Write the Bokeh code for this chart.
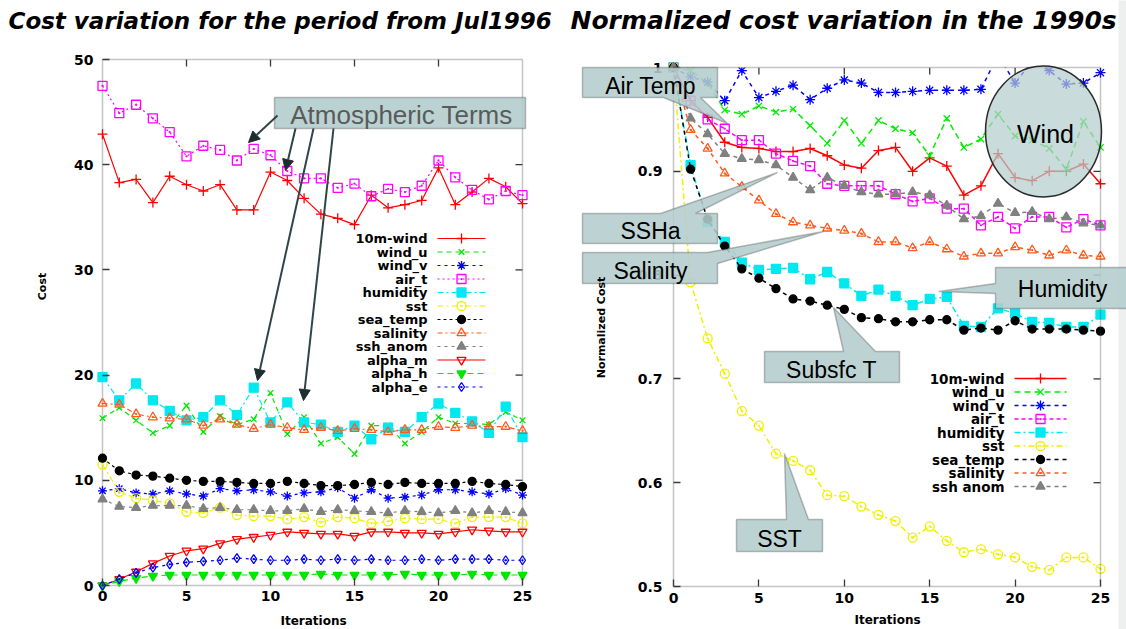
import math
from bokeh.plotting import figure
from bokeh.layouts import row
from bokeh.models import (Label, LinearAxis, FixedTicker, PolyAnnotation, Arrow,
                          NormalHead, Range1d, BoxAnnotation)
from bokeh.embed import file_html
from bokeh.resources import INLINE

# ---------------- data ----------------
iterations = [0, 1, 2, 3, 4, 5, 6, 7, 8, 9, 10, 11, 12, 13, 14, 15, 16, 17, 18, 19, 20, 21, 22, 23, 24, 25]

# absolute cost terms (left panel)
cost_10m_wind = [42.9, 38.3, 38.6, 36.4, 38.9, 38.1, 37.5, 38.1, 35.7, 35.7, 39.3, 38.5, 36.8, 35.3, 34.9, 34.3, 37.1, 35.9, 36.2, 36.6, 39.7, 36.2, 37.4, 38.7, 37.9, 36.3]
cost_wind_u = [15.9, 16.9, 15.7, 14.5, 15.2, 17.1, 14.6, 16.1, 15.3, 15.8, 18.3, 14.4, 16.0, 13.5, 14.1, 12.5, 15.2, 15.2, 13.5, 14.6, 16.0, 15.4, 15.4, 15.3, 16.5, 15.7]
cost_wind_v = [9.0, 9.2, 8.8, 8.7, 9.0, 8.7, 8.5, 9.2, 9.0, 9.1, 8.9, 8.5, 8.8, 8.9, 9.3, 8.3, 9.1, 8.3, 8.4, 8.6, 9.1, 9.1, 8.9, 8.7, 9.2, 8.6]
cost_air_t = [47.5, 44.9, 45.7, 44.4, 43.1, 40.8, 41.8, 41.4, 40.4, 41.5, 40.9, 39.4, 38.7, 38.7, 37.8, 38.2, 37.0, 37.7, 37.4, 38.0, 40.4, 38.8, 37.6, 36.7, 37.5, 37.1]
cost_humidity = [19.8, 17.6, 19.2, 17.6, 16.6, 15.7, 16.0, 17.6, 16.2, 18.8, 15.5, 17.4, 15.5, 15.3, 14.6, 15.2, 13.9, 15.0, 14.6, 16.0, 17.3, 16.4, 15.6, 14.5, 17.0, 14.1]
cost_sst = [11.5, 8.9, 8.3, 8.1, 7.8, 7.0, 6.9, 7.4, 6.7, 6.6, 6.6, 6.3, 6.5, 6.0, 6.5, 6.4, 5.9, 6.1, 6.4, 6.3, 6.3, 5.9, 6.5, 6.5, 6.5, 5.9]
cost_sea_temp = [12.1, 10.9, 10.5, 10.4, 10.2, 10.0, 9.9, 9.9, 9.8, 9.7, 9.7, 9.9, 9.7, 9.5, 9.5, 9.6, 9.8, 9.6, 9.8, 9.7, 9.7, 9.7, 9.9, 9.7, 9.6, 9.4]
cost_salinity = [17.3, 17.2, 16.3, 16.0, 15.9, 15.8, 15.2, 15.8, 15.3, 14.9, 15.3, 15.0, 14.8, 15.0, 14.7, 14.9, 14.8, 14.6, 14.8, 14.8, 15.1, 15.0, 15.2, 15.1, 15.1, 14.7]
cost_ssh_anom = [8.2, 7.5, 7.4, 7.6, 7.6, 7.6, 7.3, 7.4, 7.2, 7.2, 7.1, 7.1, 7.3, 7.0, 7.2, 7.1, 7.0, 6.9, 7.1, 7.0, 6.9, 7.1, 6.9, 7.1, 7.0, 6.9]
cost_alpha_m = [0.0, 0.6, 1.3, 2.1, 2.8, 3.3, 3.5, 4.0, 4.4, 4.6, 4.8, 5.1, 5.0, 4.9, 4.9, 4.7, 5.1, 5.1, 5.0, 5.0, 4.9, 5.1, 5.3, 5.2, 5.1, 5.1]
cost_alpha_h = [0.0, 0.4, 0.7, 0.9, 1.0, 1.0, 1.0, 1.0, 1.0, 1.0, 1.0, 1.0, 1.0, 1.1, 1.0, 1.0, 1.0, 1.0, 1.1, 1.0, 1.0, 1.0, 1.1, 1.0, 1.0, 1.0]
cost_alpha_e = [0.0, 0.6, 1.2, 1.7, 2.0, 2.2, 2.3, 2.4, 2.6, 2.5, 2.4, 2.4, 2.5, 2.4, 2.5, 2.4, 2.5, 2.4, 2.4, 2.5, 2.4, 2.5, 2.5, 2.5, 2.4, 2.4]

# normalized cost terms (right panel)
norm_10m_wind = [1.0, 0.968, 0.952, 0.928, 0.923, 0.922, 0.919, 0.919, 0.922, 0.915, 0.906, 0.903, 0.920, 0.923, 0.900, 0.913, 0.905, 0.877, 0.886, 0.917, 0.894, 0.891, 0.900, 0.900, 0.907, 0.888]
norm_wind_u = [1.0, 0.997, 0.985, 0.959, 0.955, 0.963, 0.957, 0.960, 0.944, 0.927, 0.949, 0.927, 0.949, 0.941, 0.937, 0.915, 0.951, 0.923, 0.931, 0.955, 0.934, 0.930, 0.922, 0.902, 0.948, 0.923]
norm_wind_v = [1.0, 0.991, 0.986, 0.968, 0.997, 0.971, 0.977, 0.983, 0.969, 0.980, 0.988, 0.985, 0.976, 0.976, 0.977, 0.978, 0.978, 0.978, 0.979, 1.012, 0.985, 1.006, 0.997, 0.984, 0.985, 0.995]
norm_air_t = [1.0, 0.968, 0.950, 0.941, 0.930, 0.930, 0.917, 0.910, 0.905, 0.888, 0.886, 0.886, 0.886, 0.878, 0.871, 0.874, 0.864, 0.864, 0.848, 0.856, 0.845, 0.856, 0.856, 0.846, 0.854, 0.848]
norm_humidity = [1.0, 0.906, 0.851, 0.832, 0.812, 0.805, 0.806, 0.807, 0.796, 0.803, 0.792, 0.780, 0.786, 0.780, 0.771, 0.777, 0.779, 0.751, 0.750, 0.768, 0.763, 0.755, 0.754, 0.750, 0.750, 0.762]
norm_sst = [1.0, 0.793, 0.739, 0.705, 0.669, 0.655, 0.628, 0.621, 0.612, 0.588, 0.587, 0.577, 0.569, 0.563, 0.547, 0.558, 0.544, 0.533, 0.536, 0.531, 0.528, 0.519, 0.516, 0.528, 0.528, 0.517]
norm_sea_temp = [1.0, 0.902, 0.854, 0.828, 0.806, 0.797, 0.787, 0.777, 0.775, 0.771, 0.767, 0.759, 0.758, 0.755, 0.755, 0.757, 0.757, 0.747, 0.749, 0.747, 0.756, 0.748, 0.748, 0.748, 0.747, 0.746]
norm_salinity = [1.0, 0.940, 0.922, 0.898, 0.885, 0.872, 0.859, 0.851, 0.848, 0.845, 0.843, 0.840, 0.832, 0.832, 0.826, 0.832, 0.825, 0.818, 0.821, 0.821, 0.827, 0.824, 0.819, 0.824, 0.819, 0.818]
norm_ssh_anom = [1.0, 0.951, 0.936, 0.917, 0.912, 0.911, 0.906, 0.894, 0.882, 0.894, 0.886, 0.880, 0.878, 0.878, 0.880, 0.877, 0.867, 0.854, 0.857, 0.869, 0.860, 0.861, 0.854, 0.856, 0.850, 0.848]

x_ticks = [0, 5, 10, 15, 20, 25]
left_y_ticks = [0, 10, 20, 30, 40, 50]
right_y_ticks = [0.5, 0.6, 0.7, 0.8, 0.9, 1.0]
right_y_tick_labels = ["0.5", "0.6", "0.7", "0.8", "0.9", "1"]

# ---------------- styling ----------------
TICK_FONT = "DejaVu Sans"
CALLOUT_FONT = "Liberation Sans"
CALLOUT_FILL = "#b4cdcd"
FRAME = "#3a3a3a"
TICK_LEN = 7
H = 629

# plot-box geometry on the page, in pixels: x of first/last iteration, y of bottom/top value
LBOX = dict(x0=102, x1=522, y0=585, y1=59, v0=0.0, v1=50.0, page_left=0, width=560)
RBOX = dict(x0=673, x1=1100, y0=586, y1=67, v0=0.5, v1=1.0, page_left=560, width=566)


def scales(box):
    sx = (box["x1"] - box["x0"]) / 25.0
    sy = (box["y0"] - box["y1"]) / (box["v1"] - box["v0"])
    return sx, sy


def ranges(box):
    sx, sy = scales(box)
    xs = -(box["x0"] - box["page_left"]) / sx
    xe = xs + box["width"] / sx
    ye = box["v1"] + box["y1"] / sy
    ys = ye - H / sy
    return (xs, xe), (ys, ye)


def to_data(box):
    sx, sy = scales(box)
    fx = lambda px: (px - box["x0"]) / sx
    fy = lambda py: box["v0"] + (box["y0"] - py) / sy
    return fx, fy


lx, ly = to_data(LBOX)
rx, ry = to_data(RBOX)


def make_fig(box):
    xr, yr = ranges(box)
    p = figure(width=box["width"], height=H, x_range=Range1d(*xr), y_range=Range1d(*yr),
               min_border=0, x_axis_location=None, y_axis_location=None,
               output_backend="svg", toolbar_location=None)
    p.xgrid.visible = False
    p.ygrid.visible = False
    p.outline_line_color = None
    p.background_fill_color = "white"
    p.border_fill_color = "white"
    return p


def axis(p, side, ticks, loc, standoff):
    ax = LinearAxis(ticker=FixedTicker(ticks=ticks), fixed_location=loc)
    ax.axis_line_color = None
    ax.major_tick_in = TICK_LEN
    ax.major_tick_out = 0
    ax.major_tick_line_color = FRAME
    ax.major_tick_line_width = 1.3
    ax.minor_tick_line_color = None
    ax.major_label_text_font = TICK_FONT
    ax.major_label_text_font_style = "bold"
    ax.major_label_text_font_size = "14px"
    ax.major_label_text_color = "black"
    ax.major_label_standoff = standoff
    p.add_layout(ax, side)
    return ax


def mirror_ticks(p, box, xticks, yticks):
    # inward tick marks on the top and right edges of the plot box
    sx, sy = scales(box)
    dx, dy = TICK_LEN / sx, TICK_LEN / sy
    top, right = box["v1"], 25
    p.segment(x0=xticks, y0=[top] * len(xticks), x1=xticks, y1=[top - dy] * len(xticks),
              line_color=FRAME, line_width=1.3)
    p.segment(x0=[right] * len(yticks), y0=yticks, x1=[right - dx] * len(yticks), y1=yticks,
              line_color=FRAME, line_width=1.3)


def text(p, x, y, s, size, font=TICK_FONT, style="bold", align="center", color="black",
         angle=0.0, level="annotation"):
    p.add_layout(Label(x=x, y=y, text=s, text_align=align, text_baseline="middle",
                       text_font=font, text_font_style=style, text_font_size=size,
                       text_color=color, angle=angle, level=level))


def series(p, x, y, color, dash, marker, filled, size, lw=1.2):
    p.line(x, y, line_color=color, line_dash=dash, line_width=lw)
    p.scatter(x, y, marker=marker, size=size, line_color=color, line_width=1.3,
              fill_color=color if filled else None)


def legend_entry(p, tx, x0, x1, xm, yv, name, color, dash, marker, filled, size, fsize, lw=1.2):
    p.segment(x0=[x0], y0=[yv], x1=[x1], y1=[yv], line_color=color, line_dash=dash, line_width=lw)
    p.scatter([xm], [yv], marker=marker, size=size, line_color=color, line_width=1.3,
              fill_color=color if filled else None)
    text(p, tx, yv, name, fsize, align="right")


def callout(p, pts, fx, fy, label, tx, ty, size="23px"):
    p.add_layout(PolyAnnotation(xs=[fx(a) for a, _ in pts], ys=[fy(b) for _, b in pts],
                                fill_color=CALLOUT_FILL, fill_alpha=0.88,
                                line_color="#2a2a2a", line_width=1.5, level="annotation"))
    text(p, fx(tx), fy(ty), label, size, font=CALLOUT_FONT, style="normal")


# ---------------- left panel: absolute cost ----------------
p1 = make_fig(LBOX)
axis(p1, "below", x_ticks, 0, standoff=5)
axis(p1, "left", left_y_ticks, 0, standoff=9)
mirror_ticks(p1, LBOX, [5, 10, 15, 20], [10, 20, 30, 40])
p1.add_layout(BoxAnnotation(left=0, right=25, bottom=0, top=50, fill_color=None,
                            line_color=FRAME, line_width=1.5, level="underlay"))

left_series = [
    ("10m-wind", cost_10m_wind, "#ff0000", "solid", "cross", False, 10),
    ("wind_u", cost_wind_u, "#00e600", "5 4", "x", False, 8),
    ("wind_v", cost_wind_v, "#0000ff", "3 4", "asterisk", False, 9),
    ("air_t", cost_air_t, "#ff00ff", "2 3", "square_dot", False, 9),
    ("humidity", cost_humidity, "#00e8f0", "6 3 2 3", "square", True, 9),
    ("sst", cost_sst, "#f0f000", "6 3 2 3", "circle_dot", False, 9),
    ("sea_temp", cost_sea_temp, "#000000", "3 3", "circle", True, 8),
    ("salinity", cost_salinity, "#ff5a1e", "5 3 2 3", "triangle_dot", False, 9),
    ("ssh_anom", cost_ssh_anom, "#808080", "3 4", "triangle", True, 9),
    ("alpha_m", cost_alpha_m, "#ff0000", "solid", "inverted_triangle", False, 9),
    ("alpha_h", cost_alpha_h, "#00e600", "6 4", "inverted_triangle", True, 9),
    ("alpha_e", cost_alpha_e, "#0000ff", "3 4", "diamond_dot", False, 9),
]
for name, vals, color, dash, marker, filled, size in left_series:
    series(p1, iterations, vals, color, dash, marker, filled, size)

for i, (name, vals, color, dash, marker, filled, size) in enumerate(left_series):
    yrow = 238 + 13.5 * i
    legend_entry(p1, lx(427), lx(437), lx(485), lx(461), ly(yrow), name, color, dash,
                 marker, filled, size, "13px")

# "Atmospheric Terms" box and its arrows
p1.add_layout(PolyAnnotation(xs=[lx(274), lx(525), lx(525), lx(274)],
                             ys=[ly(97), ly(97), ly(128), ly(128)],
                             fill_color=CALLOUT_FILL, fill_alpha=0.9,
                             line_color="#2a2a2a", line_width=1.5, level="annotation"))
text(p1, lx(401), ly(114), "Atmospheric Terms", "26px", font=CALLOUT_FONT, style="normal",
     color="#5a5a5a")
for (xs, ys, xe, ye) in [(277, 115, 248, 142), (295, 128, 285, 170),
                         (313, 128, 257, 380), (333, 128, 303, 400)]:
    p1.add_layout(Arrow(end=NormalHead(size=11, fill_color="#1e2e2e", line_color="#1e2e2e"),
                        x_start=lx(xs), y_start=ly(ys), x_end=lx(xe), y_end=ly(ye),
                        line_color="#2f4646", line_width=2))

text(p1, lx(313), ly(620), "Iterations", "12px")
text(p1, lx(42), ly(286), "Cost", "11px", angle=math.pi / 2)
text(p1, lx(8), ly(20), "Cost variation for the period from Jul1996", "23px",
     style="bold italic", align="left")

# ---------------- right panel: normalized cost ----------------
p2 = make_fig(RBOX)
p2.add_layout(BoxAnnotation(left=rx(1118), right=rx(1140), bottom=ry(H + 5), top=ry(-5),
                            fill_color="#eef0f0", fill_alpha=1.0, line_color=None,
                            level="underlay"))
axis(p2, "below", x_ticks, 0.5, standoff=6)
ay = axis(p2, "left", right_y_ticks, 0, standoff=11)
ay.major_label_overrides = dict(zip(right_y_ticks, right_y_tick_labels))
mirror_ticks(p2, RBOX, [5, 10, 15, 20], [0.6, 0.7, 0.8, 0.9])

right_series = [
    ("10m-wind", norm_10m_wind, "#ff0000", "solid", "cross", False, 10),
    ("wind_u", norm_wind_u, "#00ee00", "6 4", "x", False, 9),
    ("wind_v", norm_wind_v, "#0000ff", "4 4", "asterisk", False, 10),
    ("air_t", norm_air_t, "#ff00ff", "4 3", "square_dot", False, 9),
    ("humidity", norm_humidity, "#00e8f0", "6 3 2 3", "square", True, 9),
    ("sst", norm_sst, "#f0f000", "6 3 2 3", "circle_dot", False, 9),
    ("sea_temp", norm_sea_temp, "#000000", "4 4", "circle", True, 8),
    ("salinity", norm_salinity, "#ff5a1e", "4 4", "triangle_dot", False, 9),
    ("ssh anom", norm_ssh_anom, "#808080", "4 4", "triangle", True, 9),
]
for name, vals, color, dash, marker, filled, size in right_series:
    series(p2, iterations, vals, color, dash, marker, filled, size, lw=1.5)

# anything drawn above the top of the plot box is hidden, as the box clips it
p2.add_layout(BoxAnnotation(left=0.35, right=25.3, bottom=1.0, top=ry(0), fill_color="white",
                            fill_alpha=1.0, line_color=None, level="annotation"))
p2.add_layout(BoxAnnotation(left=0, right=25, bottom=0.5, top=1.0, fill_color=None,
                            line_color=FRAME, line_width=1.5, level="annotation"))

for i, (name, vals, color, dash, marker, filled, size) in enumerate(right_series):
    yrow = 378 + 13.5 * i
    legend_entry(p2, rx(1004), rx(1014), rx(1066), rx(1040), ry(yrow), name, color, dash,
                 marker, filled, size, "13.5px", lw=1.5)

callout(p2, [(582, 67), (717, 67), (717, 97), (700, 97), (727, 123), (663, 97), (582, 97)],
        rx, ry, "Air Temp", 650, 85)
callout(p2, [(582, 213), (660, 213), (777, 172), (695, 213), (717, 213), (717, 243), (582, 243)],
        rx, ry, "SSHa", 650, 230)
callout(p2, [(582, 252), (707, 252), (823, 231), (717, 263), (717, 283), (582, 283)],
        rx, ry, "Salinity", 650, 270)
callout(p2, [(995, 267), (1140, 267), (1140, 308), (995, 308), (995, 293), (938, 291), (995, 283)],
        rx, ry, "Humidity", 1062, 288)
callout(p2, [(764, 351), (843, 351), (833, 307), (875, 351), (899, 351), (899, 382), (764, 382)],
        rx, ry, "Subsfc T", 831, 369)
callout(p2, [(736, 519), (786, 519), (784, 453), (808, 519), (822, 519), (822, 551), (736, 551)],
        rx, ry, "SST", 779, 538)

# "Wind" ellipse
p2.ellipse(x=[rx(1043)], y=[ry(131)], width=[rx(1101) - rx(985)], height=[ry(66) - ry(197)],
           fill_color=CALLOUT_FILL, fill_alpha=0.72, line_color="#2a2a2a", line_width=1.5,
           level="overlay")
text(p2, rx(1045), ry(133), "Wind", "25px", font=CALLOUT_FONT, style="normal", level="overlay")

text(p2, rx(887), ry(619), "Iterations", "12px")
text(p2, rx(601), ry(327), "Normalized Cost", "11px", angle=math.pi / 2)
text(p2, rx(570), ry(20), "Normalized cost variation in the 1990s", "25px",
     style="bold italic", align="left")

layout = row(p1, p2, spacing=0)
open("out.html", "w").write(file_html(layout, INLINE))
